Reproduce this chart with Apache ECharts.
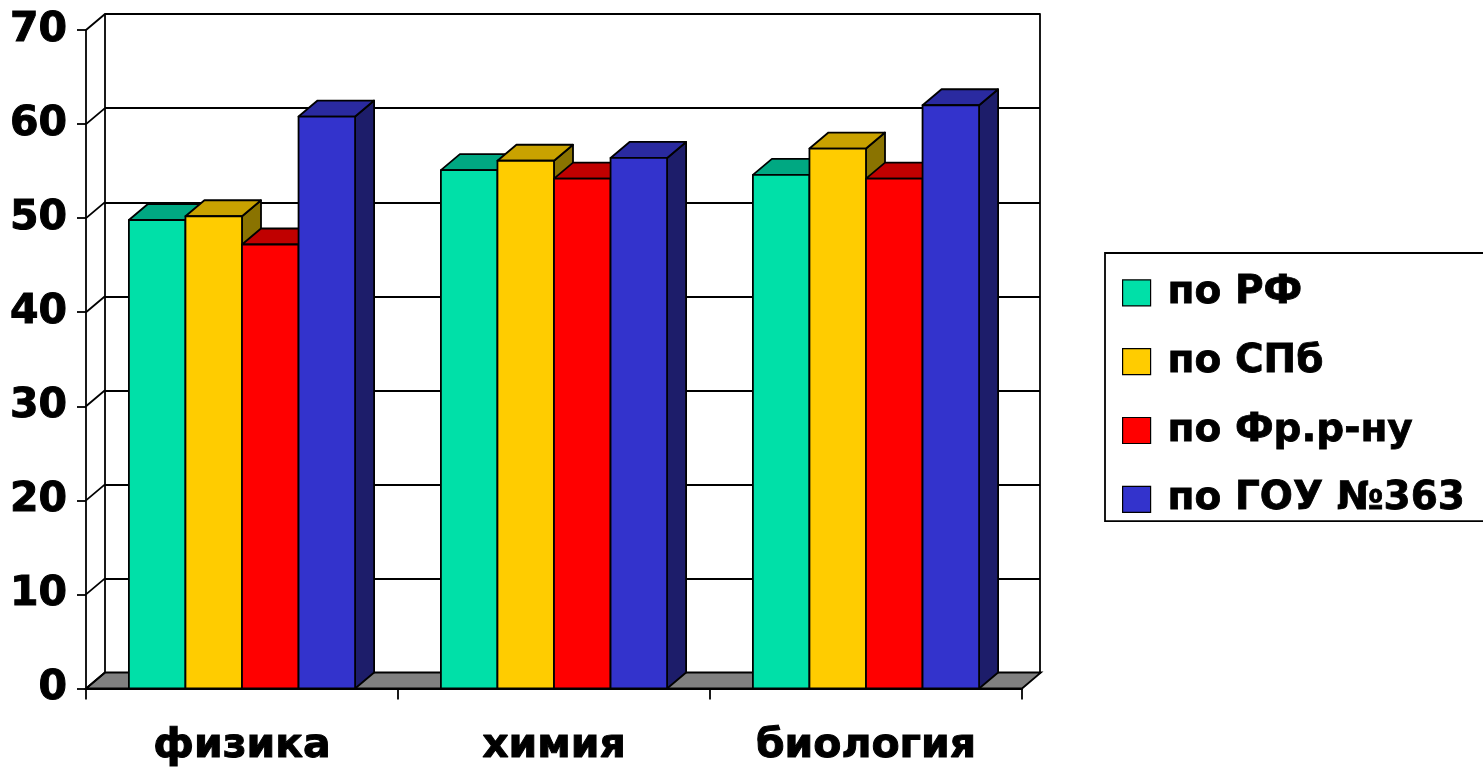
<!DOCTYPE html>
<html><head><meta charset="utf-8">
<script src="https://cdn.jsdelivr.net/npm/echarts@6/dist/echarts.min.js"></script>
<style>html,body{margin:0;padding:0;background:#fff}#c{width:1483px;height:767px}</style>
</head><body><div id="c"></div><script>
// ---- data ----
const categories = ['физика', 'химия', 'биология'];
const seriesNames = ['по РФ', 'по СПб', 'по Фр.р-ну', 'по ГОУ №363'];
const valuesRF  = [49.8, 55.1, 54.6];
const valuesSPb = [50.2, 56.1, 57.4];
const valuesFr  = [47.2, 54.2, 54.2];
const valuesGOU = [60.8, 56.4, 62.0];
const yTicks = [0, 10, 20, 30, 40, 50, 60, 70];

// ---- style ----
const DX = 19, DY = -16;           // 3D depth offset
const GROUP_FRAC = 0.725;          // share of category band used by bars
const FONT = 'DejaVu Sans';
const LW = 1.8;
const palette = [
  {front: '#00E0A8', top: '#00A882', side: '#007056'},
  {front: '#FFCC00', top: '#C9A200', side: '#8A7300'},
  {front: '#FF0000', top: '#C00000', side: '#7A0000'},
  {front: '#3333CC', top: '#2A2AA0', side: '#1D1D6A'}
];
const allValues = [valuesRF, valuesSPb, valuesFr, valuesGOU];

function barRender(k) {
  const c = palette[k];
  return function (params, api) {
    const cat = api.value(0), v = api.value(1);
    const base = api.coord([cat, 0]);
    const tp = api.coord([cat, v]);
    const band = api.size([1, 0])[0];
    const bw = band * GROUP_FRAC / 4;
    const x0 = base[0] - 2 * bw + k * bw;
    const x1 = x0 + bw;
    const yb = base[1], yt = tp[1];
    const st = {stroke: '#000', lineWidth: LW, lineJoin: 'round'};
    return {type: 'group', children: [
      {type: 'polygon', shape: {points: [[x1, yt], [x1 + DX, yt + DY], [x1 + DX, yb + DY], [x1, yb]]},
       style: Object.assign({fill: c.side}, st)},
      {type: 'polygon', shape: {points: [[x0, yt], [x1, yt], [x1 + DX, yt + DY], [x0 + DX, yt + DY]]},
       style: Object.assign({fill: c.top}, st)},
      {type: 'rect', shape: {x: x0, y: yt, width: bw, height: yb - yt},
       style: Object.assign({fill: c.front}, st)}
    ]};
  };
}

const barSeries = seriesNames.map((name, k) => ({
  name: name,
  type: 'custom',
  xAxisIndex: 0, yAxisIndex: 0,
  z: 3,
  itemStyle: {color: palette[k].front, borderColor: '#000', borderWidth: 1},
  encode: {x: 0, y: 1},
  data: allValues[k].map((v, i) => [i, v]),
  renderItem: barRender(k)
}));

const heavy = {textBorderColor: '#000', textBorderWidth: 1};

const chart = echarts.init(document.getElementById('c'), null, {renderer: 'canvas'});
chart.setOption({
  animation: false,
  backgroundColor: '#fff',
  grid: [
    {left: 86, top: 30, right: 461, bottom: 78},
    {left: 105, top: 14, right: 443, bottom: 94}
  ],
  xAxis: [
    {type: 'category', gridIndex: 0, data: categories, boundaryGap: true,
     axisLine: {show: true, lineStyle: {color: '#000', width: LW}},
     axisTick: {show: true, alignWithLabel: false, length: 11, lineStyle: {color: '#000', width: LW}},
     axisLabel: Object.assign({fontFamily: FONT, fontWeight: 'bold', fontSize: 41, color: '#000', margin: 37}, heavy),
     splitLine: {show: false}},
    {type: 'category', gridIndex: 1, data: categories, show: false}
  ],
  yAxis: [
    {type: 'value', gridIndex: 0, min: 0, max: 70, interval: 10,
     axisLine: {show: true, lineStyle: {color: '#000', width: LW}},
     axisTick: {show: true, length: 9, lineStyle: {color: '#000', width: LW}},
     axisLabel: Object.assign({fontFamily: FONT, fontWeight: 'bold', fontSize: 41, color: '#000', margin: 19}, heavy),
     splitLine: {show: false}},
    {type: 'value', gridIndex: 1, min: 0, max: 70, interval: 10,
     axisLine: {show: true, lineStyle: {color: '#000', width: LW}},
     axisTick: {show: false}, axisLabel: {show: false},
     splitLine: {show: true, lineStyle: {color: '#000', width: LW}}},
    {type: 'value', gridIndex: 1, min: 0, max: 70, interval: 10, position: 'right',
     axisLine: {show: true, lineStyle: {color: '#000', width: LW}},
     axisTick: {show: false}, axisLabel: {show: false}, splitLine: {show: false}}
  ],
  legend: {
    orient: 'vertical', left: 1105, top: 253,
    icon: 'rect', itemWidth: 28, itemHeight: 26, itemGap: 29,
    padding: [20, 60, 2, 17],
    borderColor: '#000', borderWidth: LW,
    itemStyle: {borderColor: '#000', borderWidth: 1.2},
    textStyle: Object.assign({fontFamily: FONT, fontWeight: 'bold', fontSize: 39, color: '#000', padding: [0, 0, 0, 12]}, {textBorderColor: '#000', textBorderWidth: 0.8}),
    data: seriesNames
  },
  series: [
    {type: 'custom', name: 'floor', xAxisIndex: 0, yAxisIndex: 0, z: 1, silent: true,
     data: [[0, 0]], encode: {x: 0, y: 1},
     renderItem: function (params, api) {
       const cs = params.coordSys;
       const y0 = api.coord([0, api.value(1)])[1];
       const xa = cs.x, xb = cs.x + cs.width;
       return {type: 'polygon', shape: {points: [[xa, y0], [xb, y0], [xb + DX, y0 + DY], [xa + DX, y0 + DY]]},
               style: {fill: '#808080', stroke: '#000', lineWidth: LW}};
     }},
    {type: 'custom', name: 'side', xAxisIndex: 0, yAxisIndex: 0, z: 1, silent: true,
     data: yTicks.map(v => [0, v]), encode: {x: 0, y: 1},
     renderItem: function (params, api) {
       const cs = params.coordSys;
       const y = api.coord([0, api.value(1)])[1];
       return {type: 'line', shape: {x1: cs.x, y1: y, x2: cs.x + DX, y2: y + DY},
               style: {stroke: '#000', lineWidth: LW}};
     }}
  ].concat(barSeries)
});
</script></body></html>
